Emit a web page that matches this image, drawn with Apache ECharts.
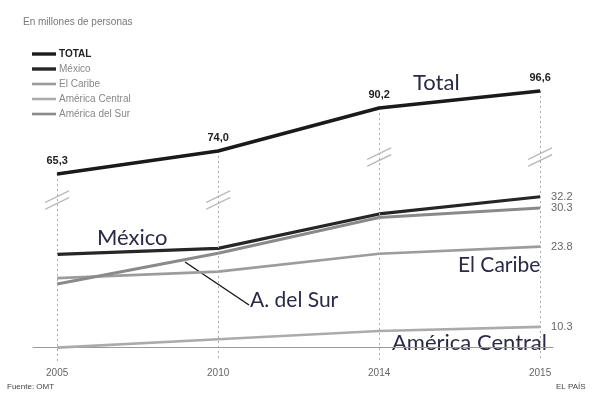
<!DOCTYPE html>
<html>
<head>
<meta charset="utf-8">
<script src="https://cdn.jsdelivr.net/npm/echarts@6/dist/echarts.min.js"></script>
<style>
html,body{margin:0;padding:0;background:#fff;}
#c{width:603px;height:398px;}
</style>
</head>
<body>
<div id="c"></div>
<script>
// ---- data ----
const years = ['2005', '2010', '2014', '2015'];
const total = [65.3, 74.0, 90.2, 96.6];
const mexico = [22.5, 23.5, 29.3, 32.2];
const caribe = [18.5, 19.6, 22.6, 23.8];
const central = [6.8, 8.2, 9.6, 10.3];
const sur = [17.5, 22.7, 28.7, 30.3];
const breakTotal = [55.5, 55.5, 71.7, 71.7]; // axis-break marks on the total scale

const pts = arr => arr.map((v, i) => [i, v]);

const chart = echarts.init(document.getElementById('c'), null, {renderer: 'canvas'});
const ff = '"Liberation Sans", Arial, sans-serif';
const annFont = 'Lato, "Open Sans", sans-serif';
const annColor = '#2a2a46';

const regionSeries = (name, arr, color, width, z) => ({
  name, type: 'line', xAxisIndex: 0, yAxisIndex: 1,
  data: pts(arr), symbol: 'none', z,
  lineStyle: {color, width},
  itemStyle: {color},
  endLabel: {
    show: true, distance: 11, color: '#666', fontSize: 11, fontFamily: ff,
    formatter: p => p.value[1].toFixed(1)
  }
});

const thick = 'path://M0,0 L24,0 L24,3.4 L0,3.4 Z';
const thin = 'path://M0,0 L24,0 L24,2.6 L0,2.6 Z';

chart.setOption({
  backgroundColor: '#ffffff',
  animation: false,
  textStyle: {fontFamily: ff},
  grid: {left: 33, right: 50, top: 80, bottom: 37, containLabel: false},
  xAxis: {
    type: 'value', min: -0.15, max: 3.08,
    axisLine: {show: true, lineStyle: {color: '#9a9a9a', width: 1}},
    axisTick: {show: false},
    splitLine: {show: false},
    axisLabel: {
      customValues: [0, 1, 2, 3], color: '#666', fontSize: 10, margin: 7,
      formatter: v => years[Math.round(v)] || ''
    }
  },
  yAxis: [
    {type: 'value', min: -5.2, max: 100.75, show: false, splitLine: {show: false}},
    {type: 'value', min: 4.55, max: 51.85, show: false, splitLine: {show: false}}
  ],
  legend: {
    orient: 'vertical', left: 27, top: 44,
    itemWidth: 24, itemHeight: 10, itemGap: 5, symbolKeepAspect: true,
    data: [
      {name: 'TOTAL', icon: thick},
      {name: 'México', icon: thick},
      {name: 'El Caribe', icon: thin},
      {name: 'América Central', icon: thin},
      {name: 'América del Sur', icon: thin}
    ],
    textStyle: {color: '#888', fontSize: 10, fontFamily: ff, padding: [0, 0, 0, -2],
      rich: {b: {fontWeight: 'bold', color: '#222', fontSize: 10, fontFamily: ff}}},
    formatter: n => n === 'TOTAL' ? '{b|TOTAL}' : n
  },
  series: [
    {
      name: 'TOTAL', type: 'line', yAxisIndex: 0, data: pts(total),
      symbol: 'circle', symbolSize: 1, showSymbol: true, z: 5,
      lineStyle: {color: '#1a1a1a', width: 3.5}, itemStyle: {color: '#1a1a1a'},
      label: {
        show: true, position: 'top', distance: 7, color: '#222', fontWeight: 'bold', fontSize: 11,
        formatter: p => p.value[1].toFixed(1).replace('.', ',')
      },
      markLine: {
        silent: true, symbol: 'none',
        lineStyle: {color: '#aaa', type: [2, 3], width: 1},
        label: {show: false},
        data: total.map((v, i) => [{coord: [i, v]}, {coord: [i, -5.2]}])
      }
    },
    regionSeries('El Caribe', caribe, '#9c9c9c', 2.6, 2),
    regionSeries('América Central', central, '#ababab', 2.6, 2),
    regionSeries('América del Sur', sur, '#8a8a8a', 3, 3),
    regionSeries('México', mexico, '#262626', 3.2, 4),
    {
      name: 'breaks', type: 'scatter', yAxisIndex: 0, data: pts(breakTotal), z: 6,
      symbol: 'path://M0,12 L24,0 L24,1.6 L0,13.6 Z M0,19 L24,7 L24,8.6 L0,20.6 Z',
      symbolSize: [24, 20], itemStyle: {color: '#a8a8a8'}, silent: true
    }
  ],
  graphic: [
    {type: 'text', left: 23, top: 17, style: {text: 'En millones de personas', fill: '#777', font: '10px ' + ff}},
    {type: 'text', left: 7, top: 383, style: {text: 'Fuente: OMT', fill: '#444', font: '8px ' + ff}},
    {type: 'text', left: 556, top: 383, style: {text: 'EL PAÍS', fill: '#444', font: '8px ' + ff}},
    {type: 'text', left: 413, top: 72, style: {text: 'Total', fill: annColor, font: '22px ' + annFont}},
    {type: 'text', left: 97, top: 227, style: {text: 'México', fill: annColor, font: '22px ' + annFont}},
    {type: 'text', left: 250, top: 290, style: {text: 'A. del Sur', fill: annColor, font: '21px ' + annFont}},
    {type: 'text', left: 458, top: 255, style: {text: 'El Caribe', fill: annColor, font: '21px ' + annFont}},
    {type: 'text', left: 392, top: 332, style: {text: 'América Central', fill: annColor, font: '22px ' + annFont}},
    {type: 'line', shape: {x1: 185, y1: 262, x2: 249, y2: 305}, style: {stroke: '#111', lineWidth: 1.3}}
  ]
});
</script>
</body>
</html>
